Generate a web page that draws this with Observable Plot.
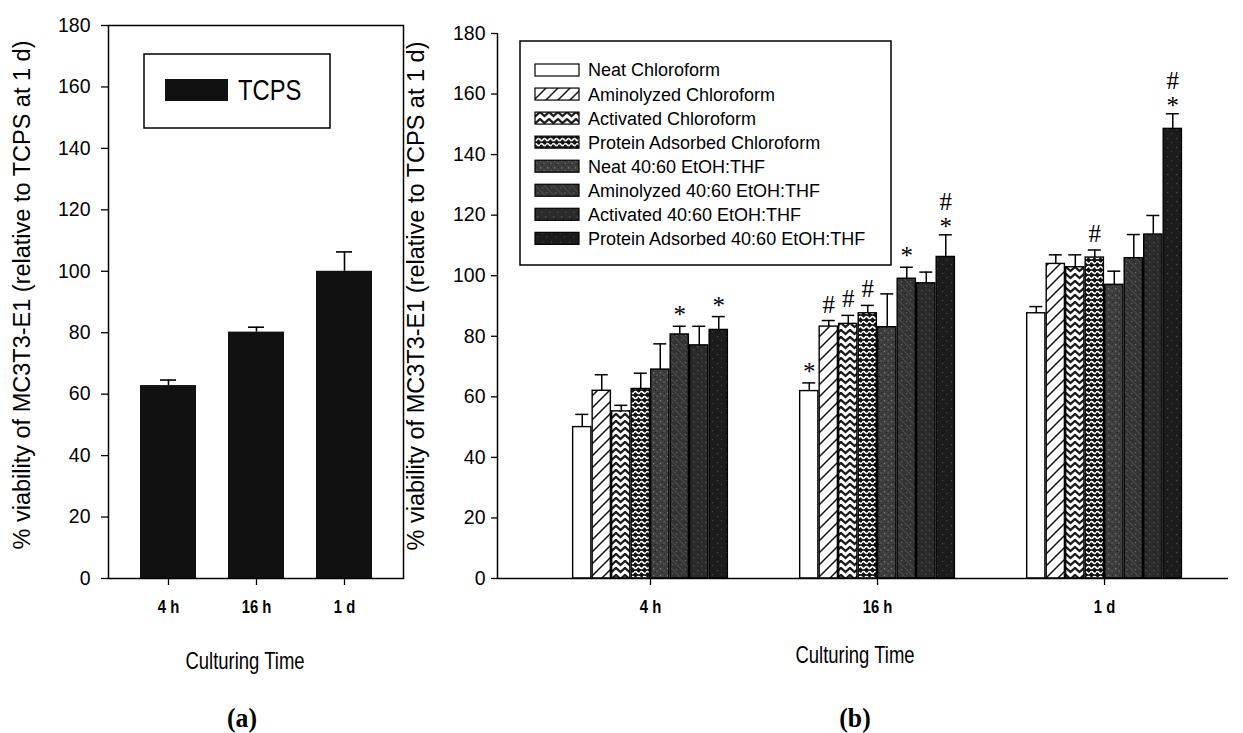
<!DOCTYPE html>
<html><head><meta charset="utf-8">
<script src="https://cdn.jsdelivr.net/npm/d3@7"></script>
<script src="https://cdn.jsdelivr.net/npm/@observablehq/plot@0.6"></script>
<style>
body{margin:0;background:#fff;}
#wrap{position:relative;width:1243px;height:733px;overflow:hidden;font-family:"Liberation Sans",Arial,sans-serif;color:#000;}
#wrap svg{position:absolute;top:0;}
.lbl{position:absolute;white-space:nowrap;line-height:1;}
.narrow{font-family:"Liberation Sans",Arial,sans-serif;transform:translate(-50%,-50%) scaleX(0.77);}
.serifb{font-family:"Liberation Serif","Times New Roman",serif;font-weight:bold;transform:translate(-50%,-50%) scaleX(0.95);}
</style></head><body><div id="wrap"></div>
<script>
// ---------- data: panel (a) ----------
const timesA = ["4 h", "16 h", "1 d"];
const tcpsMean = [62.8, 80.2, 100];
const tcpsErr = [1.8, 1.6, 6.3];

// ---------- data: panel (b) ----------
const groups = ["4 h", "16 h", "1 d"];
const seriesNames = [
  "Neat Chloroform",
  "Aminolyzed Chloroform",
  "Activated Chloroform",
  "Protein Adsorbed Chloroform",
  "Neat 40:60 EtOH:THF",
  "Aminolyzed 40:60 EtOH:THF",
  "Activated 40:60 EtOH:THF",
  "Protein Adsorbed 40:60 EtOH:THF"
];
const mean4h  = [50.0, 62.0, 55.2, 62.6, 69.0, 80.6, 77.0, 82.1];
const err4h   = [4.2, 5.3, 2.0, 5.2, 8.5, 2.7, 6.3, 4.4];
const mean16h = [61.9, 83.2, 84.1, 87.6, 83.0, 99.0, 97.5, 106.2];
const err16h  = [2.7, 2.0, 2.8, 2.6, 11.0, 3.8, 3.7, 7.3];
const mean1d  = [87.6, 103.9, 102.8, 106.0, 97.0, 105.8, 113.6, 148.5];
const err1d   = [2.2, 3.0, 4.1, 2.5, 4.5, 7.8, 6.3, 5.0];
const sig4h   = ["", "", "", "", "", "*", "", "*"];
const sig16h  = ["*", "#", "#", "#", "", "*", "", "#*"];
const sig1d   = ["", "", "", "#", "", "", "", "#*"];

const yTicks = [0, 20, 40, 60, 80, 100, 120, 140, 160, 180];
const yLabel = "% viability of MC3T3-E1 (relative to TCPS at 1 d)";
const xLabel = "Culturing Time";
const legendA = "TCPS";

// ---------- patterns ----------
const NS = "http://www.w3.org/2000/svg";
const wrap = document.getElementById("wrap");
const defsSvg = `
<svg xmlns="${NS}" width="0" height="0" style="position:absolute;left:0;top:0">
<defs>
 <pattern id="pat0" patternUnits="userSpaceOnUse" width="8" height="8"><rect width="8" height="8" fill="#fff"/></pattern>
 <pattern id="pat1" patternUnits="userSpaceOnUse" width="12" height="12">
   <rect width="12" height="12" fill="#fff"/>
   <path d="M-2,14 L14,-2 M-2,2 L2,-2 M10,14 L14,10" stroke="#111" stroke-width="1.5"/>
 </pattern>
 <pattern id="pat2" patternUnits="userSpaceOnUse" width="9" height="7">
   <rect width="9" height="7" fill="#fff"/>
   <path d="M-1,0 L4.5,5 L10,0" stroke="#1a1a1a" stroke-width="2.3" fill="none"/>
 </pattern>
 <pattern id="pat3" patternUnits="userSpaceOnUse" width="6" height="10">
   <rect width="6" height="10" fill="#111"/>
   <path d="M0,2.5 Q1.5,0.3 3,2.5 T6,2.5" stroke="#fff" stroke-width="1.5" fill="none"/>
   <path d="M-3,7.5 Q-1.5,5.3 0,7.5 T3,7.5 T6,7.5 T9,7.5" stroke="#fff" stroke-width="1.5" fill="none"/>
 </pattern>
 <pattern id="pat4" patternUnits="userSpaceOnUse" width="7" height="7">
   <rect width="7" height="7" fill="#3e3e3e"/>
   <rect x="1" y="1" width="1.3" height="1.3" fill="#7a7a7a"/>
   <rect x="4.5" y="3.5" width="1.2" height="1.2" fill="#6c6c6c"/>
   <rect x="2.5" y="5" width="1.5" height="1" fill="#252525"/>
   <rect x="5" y="0.5" width="1" height="1.4" fill="#2a2a2a"/>
 </pattern>
 <pattern id="pat5" patternUnits="userSpaceOnUse" width="9" height="9">
   <rect width="9" height="9" fill="#333"/>
   <path d="M-1,-1 L10,10" stroke="#4b4b4b" stroke-width="1.2"/>
   <rect x="6" y="2" width="1.2" height="1.2" fill="#6a6a6a"/>
   <rect x="2" y="6" width="1.2" height="1.2" fill="#5e5e5e"/>
 </pattern>
 <pattern id="pat6" patternUnits="userSpaceOnUse" width="8" height="8">
   <rect width="8" height="8" fill="#2a2a2a"/>
   <rect x="1" y="2" width="1.3" height="1.3" fill="#5a5a5a"/>
   <rect x="5" y="5.5" width="1.3" height="1.2" fill="#555"/>
   <rect x="5.5" y="1" width="1" height="1" fill="#444"/>
 </pattern>
 <pattern id="pat7" patternUnits="userSpaceOnUse" width="9" height="9">
   <rect width="9" height="9" fill="#1c1c1c"/>
   <rect x="2" y="3" width="1.2" height="1.2" fill="#4a4a4a"/>
   <rect x="6" y="7" width="1.1" height="1.1" fill="#444"/>
 </pattern>
</defs></svg>`;
wrap.insertAdjacentHTML("beforeend", defsSvg);
const patFill = j => `url(#pat${j})`;

const baseStyle = {background: "none", color: "black", fontFamily: "Liberation Sans, Arial, sans-serif", overflow: "visible"};

// condense the x tick labels horizontally (narrow face look)
function condenseXTicks(svg) {
  d3.select(svg).selectAll('g[aria-label="x-axis tick label"] text').each(function() {
    const t = this.getAttribute("transform") || "";
    this.setAttribute("transform", t + " scale(0.78,1)");
  });
}

// ---------- panel (a) ----------
const dataA = timesA.map((t, i) => ({t, v: tcpsMean[i], e: tcpsErr[i]}));
const plotA = Plot.plot({
  width: 420, height: 700,
  marginLeft: 108, marginRight: 17, marginTop: 25, marginBottom: 122,
  style: baseStyle,
  x: {domain: timesA, paddingInner: 0.364, paddingOuter: 0.352, label: null},
  y: {domain: [0, 180], label: null},
  marks: [
    Plot.barY(dataA, {x: "t", y: "v", fill: "#111"}),
    Plot.ruleX(dataA, {x: "t", y1: "v", y2: d => d.v + d.e, strokeWidth: 1.6}),
    Plot.tickY(dataA, {x: "t", y: d => d.v + d.e, insetLeft: 20, insetRight: 20, strokeWidth: 1.6}),
    Plot.frame({strokeWidth: 1.5}),
    Plot.axisY({ticks: yTicks, tickSize: 7, tickPadding: 11, fontSize: 19.5, label: null, strokeWidth: 1.3}),
    Plot.axisX({tickSize: 7, tickPadding: 14, fontSize: 19, fontWeight: "bold", label: null, strokeWidth: 1.3}),
    Plot.text([yLabel], {frameAnchor: "left", textAnchor: "middle", lineAnchor: "middle", rotate: -90, dx: -86, dy: -7, fontSize: 23.5, text: d => d})
  ]
});
plotA.style.left = "0px";
condenseXTicks(plotA);
wrap.appendChild(plotA);

// ---------- panel (b) ----------
const means = [mean4h, mean16h, mean1d];
const errs = [err4h, err16h, err1d];
const sigs = [sig4h, sig16h, sig1d];
const rows = [];
groups.forEach((g, gi) => seriesNames.forEach((s, j) =>
  rows.push({g, gi, j, s, mean: means[gi][j], err: errs[gi][j], sig: sigs[gi][j]})));

const groupStep = 227;                 // px between group centres
const pitch = 19.5 / groupStep;        // bar pitch in group units
const halfW = 9.1 / groupStep;         // half bar width
const capW = 6.5 / groupStep;          // half cap width
const cx = d => d.gi + (d.j - 3.5) * pitch;
const xMin = -0.674, xMax = 2.546;
const sigFont = {fontSize: 25, fontFamily: "Liberation Serif, serif", lineAnchor: "middle"};
const errTop = d => d.mean + d.err;

const plotB = Plot.plot({
  width: 843, height: 700,
  marginLeft: 97, marginRight: 15, marginTop: 33, marginBottom: 122,
  style: baseStyle,
  x: {type: "linear", domain: [xMin, xMax], label: null},
  y: {domain: [0, 180], label: null},
  marks: [
    ...seriesNames.map((s, j) => Plot.rectY(rows.filter(d => d.j === j), {
      x1: d => cx(d) - halfW, x2: d => cx(d) + halfW, y1: 0, y2: "mean",
      fill: patFill(j), stroke: "black", strokeWidth: 1.4
    })),
    Plot.ruleX(rows, {x: cx, y1: "mean", y2: errTop, strokeWidth: 1.5}),
    Plot.ruleY(rows, {y: errTop, x1: d => cx(d) - capW, x2: d => cx(d) + capW, strokeWidth: 1.5}),
    Plot.text(rows.filter(d => d.sig === "*"), {x: cx, y: errTop, text: () => "*", dy: -11, ...sigFont}),
    Plot.text(rows.filter(d => d.sig === "#*"), {x: cx, y: errTop, text: () => "*", dy: -8, ...sigFont}),
    Plot.text(rows.filter(d => d.sig === "#"), {x: cx, y: errTop, text: () => "#", dy: -16, ...sigFont}),
    Plot.text(rows.filter(d => d.sig === "#*"), {x: cx, y: errTop, text: () => "#", dy: -33, ...sigFont}),
    Plot.ruleY([0], {strokeWidth: 1.5}),
    Plot.ruleX([xMin], {strokeWidth: 1.5}),
    Plot.axisY({ticks: yTicks, tickSize: 6, tickPadding: 6, fontSize: 19.5, label: null, strokeWidth: 1.3}),
    Plot.axisX({ticks: [0, 1, 2], tickFormat: i => groups[i], tickSize: 7, tickPadding: 14, fontSize: 19, fontWeight: "bold", label: null, strokeWidth: 1.3}),
    Plot.text([yLabel], {frameAnchor: "left", textAnchor: "middle", lineAnchor: "middle", rotate: -90, dx: -81, dy: -10, fontSize: 23.5, text: d => d})
  ]
});
plotB.style.left = "400px";
condenseXTicks(plotB);
wrap.appendChild(plotB);

// ---------- legends & captions (overlay) ----------
const ov = d3.select(wrap).append("svg")
  .attr("width", 1243).attr("height", 733)
  .style("left", "0px").style("pointer-events", "none").style("overflow", "visible");

// legend (a)
const la = ov.append("g");
la.append("rect").attr("x", 144).attr("y", 54).attr("width", 186).attr("height", 74)
  .attr("fill", "none").attr("stroke", "black").attr("stroke-width", 1.5);
la.append("rect").attr("x", 165).attr("y", 79).attr("width", 63).attr("height", 22).attr("fill", "#111");
la.append("text").attr("transform", "translate(238,90) scale(0.82,1)").attr("dy", "0.36em")
  .style("font-size", "29px").text(legendA);

// legend (b)
const lb = ov.append("g");
lb.append("rect").attr("x", 520).attr("y", 41).attr("width", 371).attr("height", 224)
  .attr("fill", "white").attr("stroke", "black").attr("stroke-width", 1.5);
const li = lb.selectAll("g.item").data(seriesNames).join("g")
  .attr("transform", (d, i) => `translate(0,${70 + i * 24.05})`);
li.append("rect").attr("x", 535).attr("y", -6).attr("width", 44).attr("height", 12)
  .attr("fill", (d, i) => patFill(i)).attr("stroke", "black").attr("stroke-width", 1.2);
li.append("text").attr("x", 588).attr("y", 0).attr("dy", "0.36em")
  .style("font-size", "18px").text(d => d);

// captions
const cap = (txt, x, y, cls, size) => {
  const el = document.createElement("div");
  el.className = "lbl " + cls;
  el.style.left = x + "px"; el.style.top = y + "px"; el.style.fontSize = size + "px";
  el.textContent = txt;
  wrap.appendChild(el);
};
cap(xLabel, 245, 661, "narrow", 24);
cap(xLabel, 855, 655, "narrow", 24);
cap("(a)", 242, 718, "serifb", 27);
cap("(b)", 855, 718, "serifb", 27);
</script></body></html>
